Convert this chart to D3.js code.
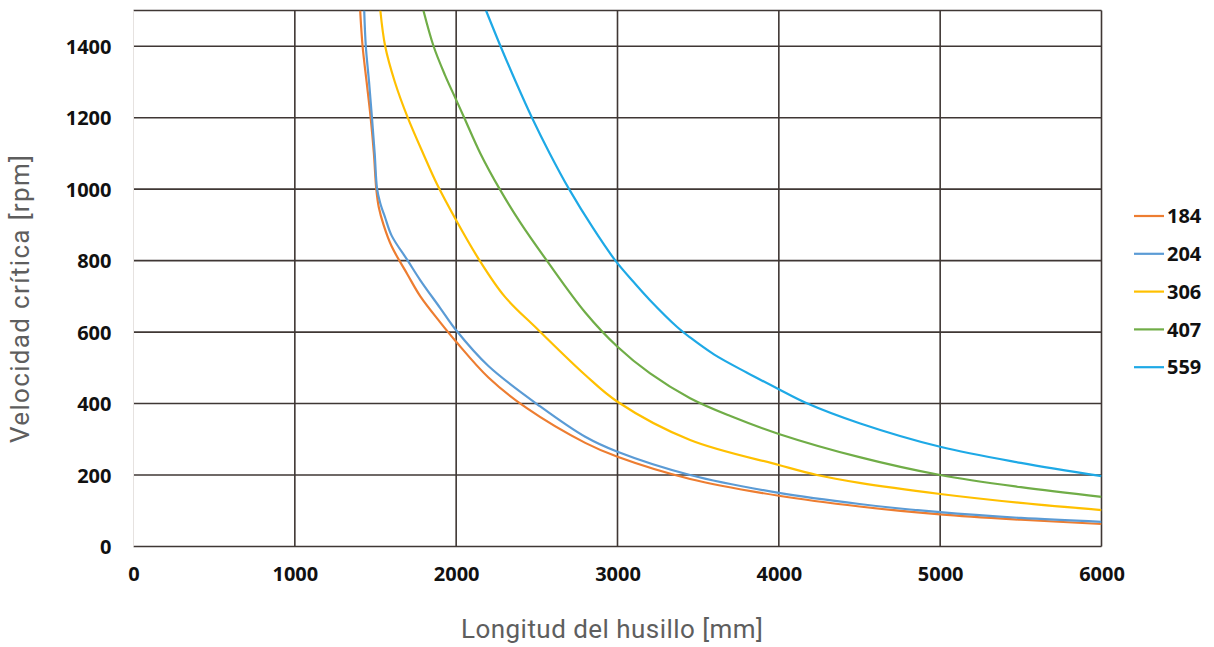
<!DOCTYPE html>
<html><head><meta charset="utf-8">
<script src="https://cdn.jsdelivr.net/npm/d3@7"></script>
<style>
html,body{margin:0;padding:0;background:#fff;}
svg{display:block;}
</style></head>
<body>
<svg id="chart" width="1214" height="647"></svg>
<script>
// ---- data ----
const xTicks = [0, 1000, 2000, 3000, 4000, 5000, 6000];
const yTicks = [0, 200, 400, 600, 800, 1000, 1200, 1400];
const seriesNames = ["184", "204", "306", "407", "559"];
const seriesColors = ["#ED7D31", "#5B9BD5", "#FFC000", "#70AD47", "#1EA9E6"];

const s184L = [1405,1420,1445,1470,1490,1505,1520,1550,1600,1700,1778,1900,2000,2200,2438,2800,3000,3450,4000,4500,5000,5500,6000];
const s184V = [1500,1400,1300,1200,1100,1000,950,900,840,760,700,628,573,473,387,290,251,189,142,112,90,75,63];

const s204L = [1430,1440,1460,1478,1495,1510,1530,1560,1600,1700,1778,1900,2000,2200,2521,2800,3000,3450,4000,4500,5000,5500,6000];
const s204V = [1500,1400,1300,1200,1100,1000,960,920,870,800,745,668,605,505,392,307,265,200,150,119,96,80,69];

const s306L = [1530,1560,1620,1700,1800,1880,2000,2139,2300,2500,2800,3000,3450,4000,4236,4500,5000,5500,6000];
const s306V = [1500,1400,1300,1200,1095,1015,913,805,700,610,480,405,298,228,200,178,147,122,102];

const s407L = [1797,1860,1930,2000,2050,2150,2270,2400,2562,2800,3000,3200,3450,3700,4000,4500,5000,5500,6000];
const s407V = [1500,1400,1320,1250,1200,1100,1000,905,800,655,559,485,415,365,315,250,200,166,139];

const s559L = [2185,2275,2370,2470,2580,2700,2850,2987,3100,3200,3368,3450,3600,3800,4000,4163,4500,5000,5500,6000];
const s559V = [1500,1400,1300,1200,1100,1000,890,800,740,690,615,585,537,487,440,403,345,279,234,197];

const seriesL = [s184L, s204L, s306L, s407L, s559L];
const seriesV = [s184V, s204V, s306V, s407V, s559V];

// ---- layout ----
const svg = d3.select("#chart");
const pLeft = 133.5, pRight = 1101.5, pTop = 10.5, pBottom = 546.5;
const x = d3.scaleLinear().domain([0, 6000]).range([pLeft, pRight]);
const y = d3.scaleLinear().domain([0, 1500]).range([pBottom, pTop]);
const gridColor = "#3f3734";

// grid
const g = svg.append("g");
g.selectAll("line.h").data(yTicks.concat([1500])).enter().append("line")
  .attr("x1", pLeft).attr("x2", pRight)
  .attr("y1", d => y(d)).attr("y2", d => y(d))
  .attr("stroke", gridColor).attr("stroke-width", 1.6);
g.selectAll("line.v").data(xTicks.slice(1)).enter().append("line")
  .attr("x1", d => x(d)).attr("x2", d => x(d))
  .attr("y1", pTop).attr("y2", pBottom)
  .attr("stroke", gridColor).attr("stroke-width", 1.6);
g.append("line").attr("x1", pLeft).attr("x2", pLeft).attr("y1", pTop).attr("y2", pBottom)
  .attr("stroke", "#e6e2e0").attr("stroke-width", 1);

// axes
const tickFont = "'Open Sans', sans-serif";
const yAxis = svg.append("g").attr("transform", `translate(${pLeft - 22},0)`)
  .call(d3.axisLeft(y).tickValues(yTicks).tickSize(0).tickPadding(0).tickFormat(d3.format("d")));
yAxis.select(".domain").remove();
yAxis.selectAll("text").attr("font-family", tickFont).attr("font-weight", 700)
  .attr("font-size", 20).attr("fill", "#111").attr("dy", "0.36em");

const xAxis = svg.append("g").attr("transform", `translate(0,${pBottom + 20})`)
  .call(d3.axisBottom(x).tickValues(xTicks).tickSize(0).tickPadding(0).tickFormat(d3.format("d")));
xAxis.select(".domain").remove();
xAxis.selectAll("text").attr("font-family", tickFont).attr("font-weight", 700)
  .attr("font-size", 20).attr("fill", "#111").attr("dy", "0.71em");

// clip
svg.append("clipPath").attr("id", "clip").append("rect")
  .attr("x", pLeft).attr("y", pTop).attr("width", pRight - pLeft).attr("height", pBottom - pTop);

const line = d3.line().x(d => x(d[0])).y(d => y(d[1])).curve(d3.curveCatmullRom.alpha(0.5));
const lines = svg.append("g").attr("clip-path", "url(#clip)");
seriesNames.forEach((n, i) => {
  const pts = seriesL[i].map((L, j) => [L, seriesV[i][j]]);
  lines.append("path").attr("d", line(pts)).attr("fill", "none")
    .attr("stroke", seriesColors[i]).attr("stroke-width", 2.2);
});

// legend
const leg = svg.append("g");
seriesNames.forEach((n, i) => {
  const yy = 216 + i * 37.8;
  leg.append("line").attr("x1", 1134).attr("x2", 1164).attr("y1", yy).attr("y2", yy)
    .attr("stroke", seriesColors[i]).attr("stroke-width", 2.2);
  leg.append("text").attr("x", 1167).attr("y", yy).attr("dy", "0.36em")
    .attr("font-family", tickFont).attr("font-weight", 700).attr("font-size", 20)
    .attr("fill", "#111").text(n);
});

// titles
const titleFont = "Roboto, sans-serif";
svg.append("text").attr("x", 612).attr("y", 638).attr("text-anchor", "middle")
  .attr("font-family", titleFont).attr("font-weight", 400).attr("font-size", 26)
  .attr("textLength", 302).attr("lengthAdjust", "spacing")
  .attr("fill", "#5e5e5e").text("Longitud del husillo [mm]");
svg.append("text").attr("transform", "translate(29,299) rotate(-90)").attr("text-anchor", "middle")
  .attr("font-family", titleFont).attr("font-weight", 400).attr("font-size", 26)
  .attr("textLength", 288).attr("lengthAdjust", "spacing")
  .attr("fill", "#5e5e5e").text("Velocidad crítica [rpm]");
</script>
</body></html>
